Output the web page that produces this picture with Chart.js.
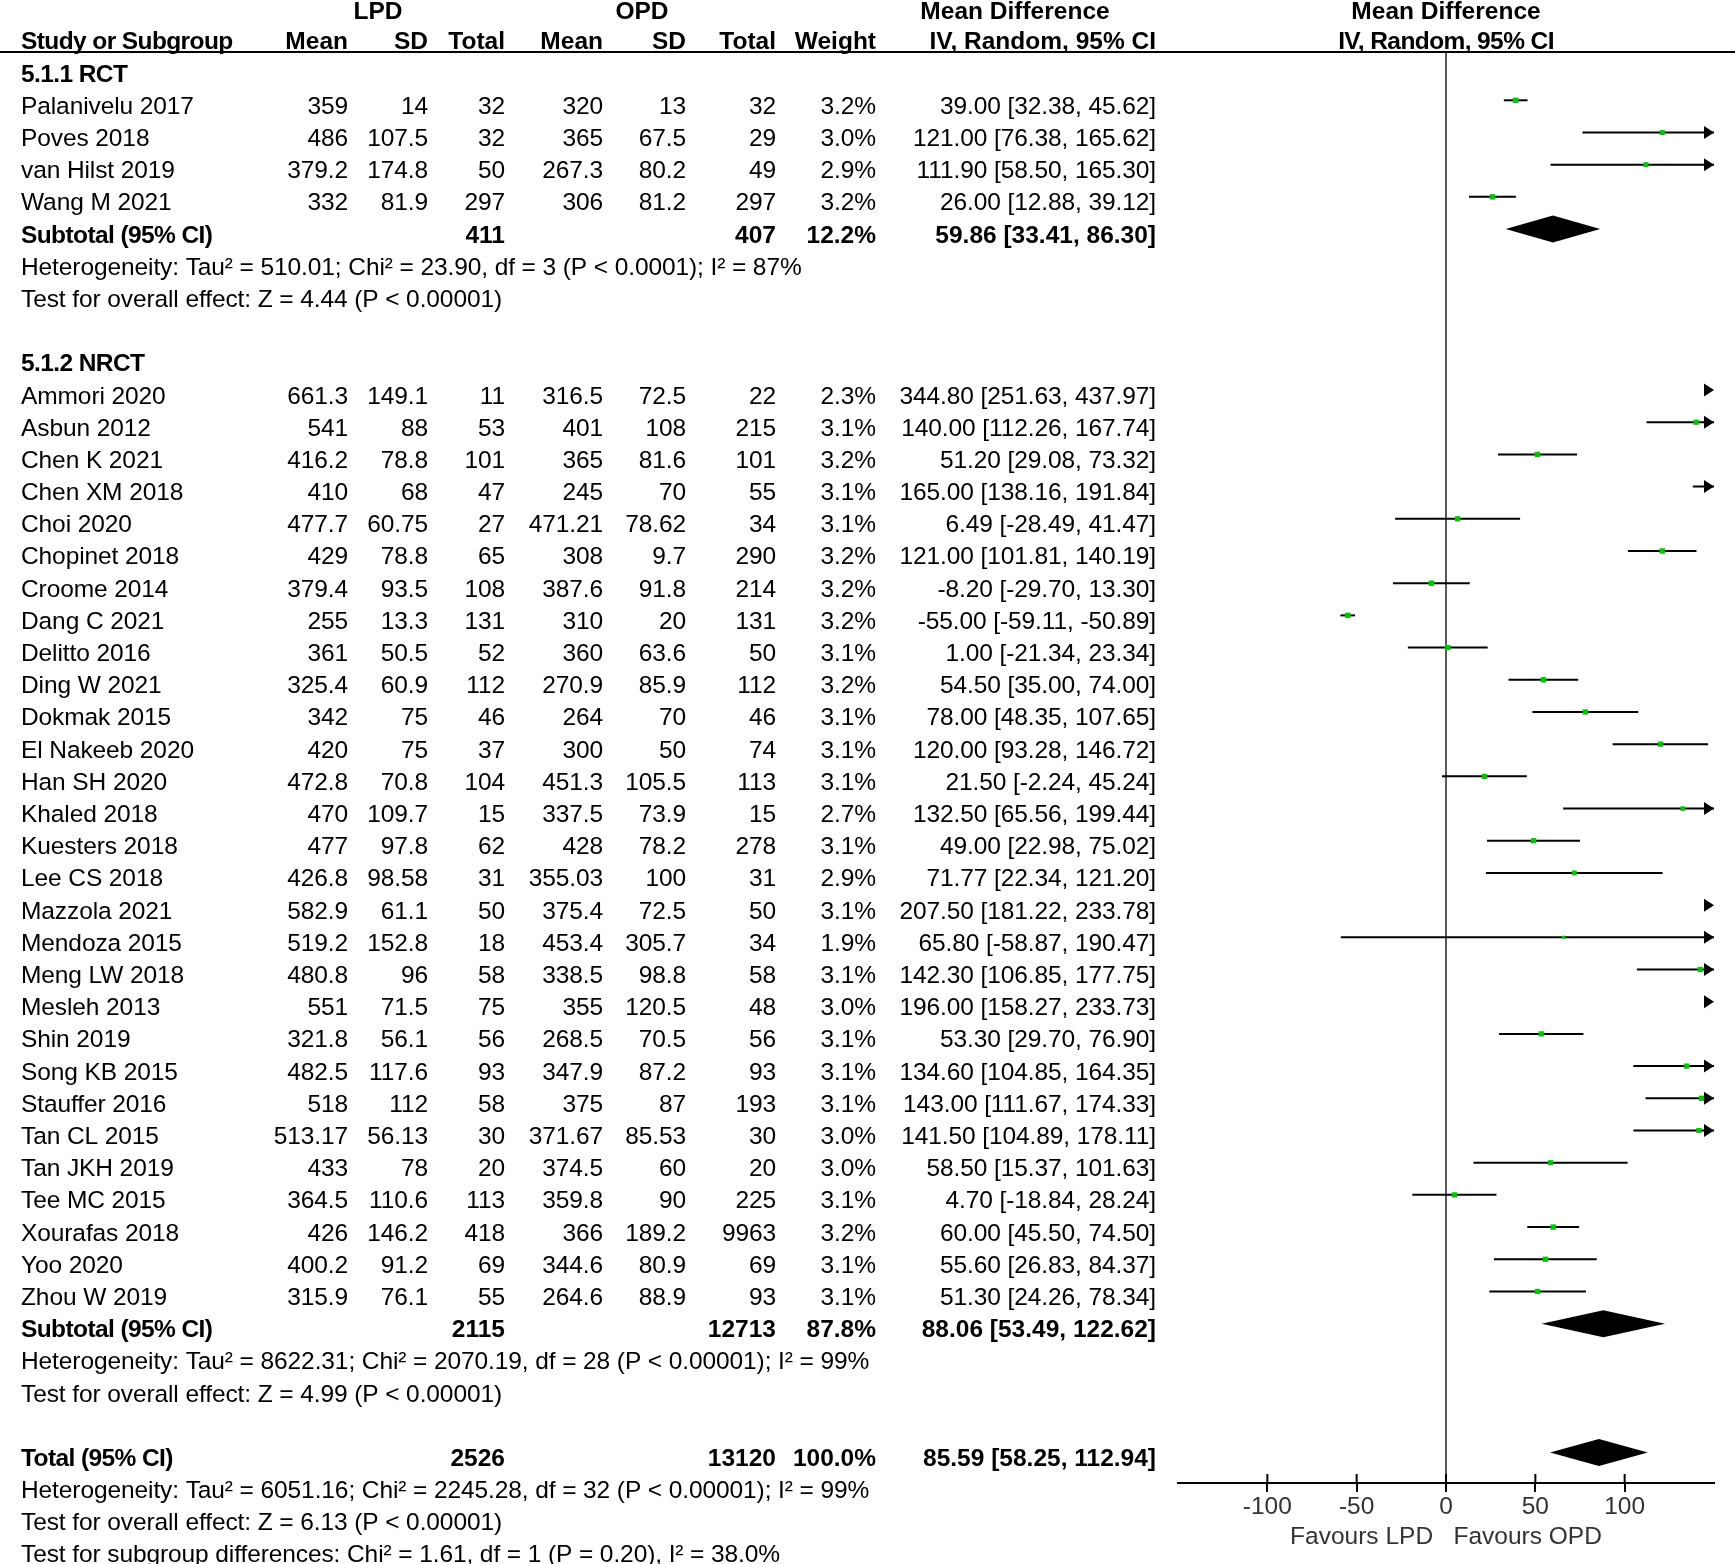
<!DOCTYPE html>
<html>
<head>
<meta charset="utf-8">
<title>Forest plot - LPD vs OPD</title>
<script src="https://cdn.jsdelivr.net/npm/chart.js@4.4.1/dist/chart.umd.min.js"></script>
<style>
    html, body { margin: 0; padding: 0; background: #fff; }
    canvas { display: block; }
</style>
</head>
<body>
<canvas id="forestChart" width="1735" height="1564"></canvas>
<script>
/* ============================================
   DATA
   ============================================ */

const groupNames = ['5.1.1 RCT', '5.1.2 NRCT'];

const studies = [
    'Palanivelu 2017', 'Poves 2018', 'van Hilst 2019', 'Wang M 2021',
    'Ammori 2020', 'Asbun 2012', 'Chen K 2021', 'Chen XM 2018', 'Choi 2020',
    'Chopinet 2018', 'Croome 2014', 'Dang C 2021', 'Delitto 2016', 'Ding W 2021',
    'Dokmak 2015', 'El Nakeeb 2020', 'Han SH 2020', 'Khaled 2018', 'Kuesters 2018',
    'Lee CS 2018', 'Mazzola 2021', 'Mendoza 2015', 'Meng LW 2018', 'Mesleh 2013',
    'Shin 2019', 'Song KB 2015', 'Stauffer 2016', 'Tan CL 2015', 'Tan JKH 2019',
    'Tee MC 2015', 'Xourafas 2018', 'Yoo 2020', 'Zhou W 2019'
];
const subgroup = [0, 0, 0, 0,
    1, 1, 1, 1, 1, 1, 1, 1, 1, 1, 1, 1, 1, 1, 1, 1, 1, 1, 1, 1, 1, 1, 1, 1, 1, 1, 1, 1, 1];

const lpdMean = ['359', '486', '379.2', '332',
    '661.3', '541', '416.2', '410', '477.7', '429', '379.4', '255', '361', '325.4',
    '342', '420', '472.8', '470', '477', '426.8', '582.9', '519.2', '480.8', '551',
    '321.8', '482.5', '518', '513.17', '433', '364.5', '426', '400.2', '315.9'];
const lpdSD = ['14', '107.5', '174.8', '81.9',
    '149.1', '88', '78.8', '68', '60.75', '78.8', '93.5', '13.3', '50.5', '60.9',
    '75', '75', '70.8', '109.7', '97.8', '98.58', '61.1', '152.8', '96', '71.5',
    '56.1', '117.6', '112', '56.13', '78', '110.6', '146.2', '91.2', '76.1'];
const lpdN = [32, 32, 50, 297,
    11, 53, 101, 47, 27, 65, 108, 131, 52, 112, 46, 37, 104, 15, 62, 31, 50, 18, 58, 75,
    56, 93, 58, 30, 20, 113, 418, 69, 55];
const opdMean = ['320', '365', '267.3', '306',
    '316.5', '401', '365', '245', '471.21', '308', '387.6', '310', '360', '270.9',
    '264', '300', '451.3', '337.5', '428', '355.03', '375.4', '453.4', '338.5', '355',
    '268.5', '347.9', '375', '371.67', '374.5', '359.8', '366', '344.6', '264.6'];
const opdSD = ['13', '67.5', '80.2', '81.2',
    '72.5', '108', '81.6', '70', '78.62', '9.7', '91.8', '20', '63.6', '85.9',
    '70', '50', '105.5', '73.9', '78.2', '100', '72.5', '305.7', '98.8', '120.5',
    '70.5', '87.2', '87', '85.53', '60', '90', '189.2', '80.9', '88.9'];
const opdN = [32, 29, 49, 297,
    22, 215, 101, 55, 34, 290, 214, 131, 50, 112, 46, 74, 113, 15, 278, 31, 50, 34, 58, 48,
    56, 93, 193, 30, 20, 225, 9963, 69, 93];
const weights = [3.2, 3.0, 2.9, 3.2,
    2.3, 3.1, 3.2, 3.1, 3.1, 3.2, 3.2, 3.2, 3.1, 3.2, 3.1, 3.1, 3.1, 2.7, 3.1, 2.9, 3.1,
    1.9, 3.1, 3.0, 3.1, 3.1, 3.1, 3.0, 3.0, 3.1, 3.2, 3.1, 3.1];
const meanDiff = [39.00, 121.00, 111.90, 26.00,
    344.80, 140.00, 51.20, 165.00, 6.49, 121.00, -8.20, -55.00, 1.00, 54.50, 78.00,
    120.00, 21.50, 132.50, 49.00, 71.77, 207.50, 65.80, 142.30, 196.00, 53.30, 134.60,
    143.00, 141.50, 58.50, 4.70, 60.00, 55.60, 51.30];
const ciLow = [32.38, 76.38, 58.50, 12.88,
    251.63, 112.26, 29.08, 138.16, -28.49, 101.81, -29.70, -59.11, -21.34, 35.00, 48.35,
    93.28, -2.24, 65.56, 22.98, 22.34, 181.22, -58.87, 106.85, 158.27, 29.70, 104.85,
    111.67, 104.89, 15.37, -18.84, 45.50, 26.83, 24.26];
const ciHigh = [45.62, 165.62, 165.30, 39.12,
    437.97, 167.74, 73.32, 191.84, 41.47, 140.19, 13.30, -50.89, 23.34, 74.00, 107.65,
    146.72, 45.24, 199.44, 75.02, 121.20, 233.78, 190.47, 177.75, 233.73, 76.90, 164.35,
    174.33, 178.11, 101.63, 28.24, 74.50, 84.37, 78.34];

// subgroup summaries
const subLpdN = [411, 2115];
const subOpdN = [407, 12713];
const subWeight = [12.2, 87.8];
const subMD = [59.86, 88.06];
const subLow = [33.41, 53.49];
const subHigh = [86.30, 122.62];
const subHeterogeneity = [
    'Heterogeneity: Tau² = 510.01; Chi² = 23.90, df = 3 (P < 0.0001); I² = 87%',
    'Heterogeneity: Tau² = 8622.31; Chi² = 2070.19, df = 28 (P < 0.00001); I² = 99%'
];
const subEffect = [
    'Test for overall effect: Z = 4.44 (P < 0.00001)',
    'Test for overall effect: Z = 4.99 (P < 0.00001)'
];

// overall summary
const totalLpdN = 2526;
const totalOpdN = 13120;
const totalWeight = 100.0;
const totalMD = 85.59;
const totalLow = 58.25;
const totalHigh = 112.94;
const totalNotes = [
    'Heterogeneity: Tau² = 6051.16; Chi² = 2245.28, df = 32 (P < 0.00001); I² = 99%',
    'Test for overall effect: Z = 6.13 (P < 0.00001)',
    'Test for subgroup differences: Chi² = 1.61, df = 1 (P = 0.20), I² = 38.0%'
];

// axis
const xTicks = [-100, -50, 0, 50, 100];
const xMin = -150;
const xMax = 150;

/* ============================================
   LAYOUT / STYLE
   ============================================ */

const FONT_FAMILY = '"Liberation Sans", Arial, sans-serif';
const FONT_SIZE = 24.5;
const TEXT_DROP = 13.5;        // text baseline below the plotted row centre
const DIAMOND_HALF = 13.5;
const MARKER_GREEN = '#00c800';

// right edges of the table columns
const COL = {
    name: 21,
    lpdMean: 348, lpdSD: 428, lpdN: 505,
    opdMean: 603, opdSD: 686, opdN: 776,
    weight: 876, md: 1156
};

/**
 * Build the row list (row index = y value on the chart)
 */
function buildRows() {
    const rows = [];
    let r = 0;
    groupNames.forEach(function(name, g) {
        rows.push({ kind: 'group', row: r++, text: name });
        studies.forEach(function(s, i) {
            if (subgroup[i] === g) rows.push({ kind: 'study', row: r++, i: i });
        });
        rows.push({ kind: 'subtotal', row: r++, g: g });
        rows.push({ kind: 'note', row: r++, text: subHeterogeneity[g] });
        rows.push({ kind: 'note', row: r++, text: subEffect[g] });
        r++; // blank line
    });
    rows.push({ kind: 'total', row: r++ });
    totalNotes.forEach(function(t) {
        rows.push({ kind: 'note', row: r++, text: t });
    });
    return rows;
}

const rows = buildRows();
const studyRows = rows.filter(r => r.kind === 'study');

function fmtCI(md, lo, hi) {
    return md.toFixed(2) + ' [' + lo.toFixed(2) + ', ' + hi.toFixed(2) + ']';
}

/**
 * Draw text helper (tight = slightly condensed bold, as in the original)
 */
function drawText(ctx, s, x, y, align, bold, tight) {
    ctx.font = (bold ? 'bold ' : '') + FONT_SIZE + 'px ' + FONT_FAMILY;
    ctx.letterSpacing = tight ? '-0.6px' : (bold ? '0px' : '-0.1px');
    ctx.textAlign = align;
    ctx.fillText(s, x, y);
}

function drawDiamond(ctx, xs, yPix, md, lo, hi) {
    ctx.beginPath();
    ctx.moveTo(xs.getPixelForValue(lo), yPix);
    ctx.lineTo(xs.getPixelForValue(md), yPix - DIAMOND_HALF);
    ctx.lineTo(xs.getPixelForValue(hi), yPix);
    ctx.lineTo(xs.getPixelForValue(md), yPix + DIAMOND_HALF);
    ctx.closePath();
    ctx.fill();
}

const forestDecor = {
    id: 'forestDecor',
    beforeDatasetsDraw(chart) {
        const { ctx, chartArea, scales: { x } } = chart;
        ctx.save();
        // line of no effect
        ctx.strokeStyle = '#222';
        ctx.lineWidth = 1.5;
        const x0 = x.getPixelForValue(0);
        ctx.beginPath();
        ctx.moveTo(x0, chartArea.top);
        ctx.lineTo(x0, chartArea.bottom);
        ctx.stroke();
        ctx.restore();
    },
    afterDatasetsDraw(chart) {
        const { ctx, scales: { x, y } } = chart;
        ctx.save();
        ctx.fillStyle = '#000';

        // arrows for intervals running off the scale
        studyRows.forEach(function(r) {
            const yp = y.getPixelForValue(r.row);
            if (ciHigh[r.i] > xMax) {
                const tip = x.getPixelForValue(xMax);
                ctx.beginPath();
                ctx.moveTo(tip, yp);
                ctx.lineTo(tip - 10, yp - 6.5);
                ctx.lineTo(tip - 10, yp + 6.5);
                ctx.closePath();
                ctx.fill();
            }
            if (ciLow[r.i] < xMin) {
                const tip = x.getPixelForValue(xMin);
                ctx.beginPath();
                ctx.moveTo(tip, yp);
                ctx.lineTo(tip + 10, yp - 6.5);
                ctx.lineTo(tip + 10, yp + 6.5);
                ctx.closePath();
                ctx.fill();
            }
        });

        // pooled diamonds
        rows.forEach(function(r) {
            const yp = y.getPixelForValue(r.row);
            if (r.kind === 'subtotal') {
                drawDiamond(ctx, x, yp, subMD[r.g], subLow[r.g], subHigh[r.g]);
            } else if (r.kind === 'total') {
                drawDiamond(ctx, x, yp, totalMD, totalLow, totalHigh);
            }
        });
        ctx.restore();
    },
    afterDraw(chart) {
        const { ctx, chartArea, width, scales: { x, y } } = chart;
        ctx.save();

        // header rule
        ctx.strokeStyle = '#000';
        ctx.lineWidth = 2;
        ctx.beginPath();
        ctx.moveTo(0, chartArea.top);
        ctx.lineTo(width, chartArea.top);
        ctx.stroke();

        // upper half of the axis ticks
        x.ticks.forEach(function(t) {
            const xp = x.getPixelForValue(t.value);
            ctx.beginPath();
            ctx.moveTo(xp, chartArea.bottom - 9);
            ctx.lineTo(xp, chartArea.bottom);
            ctx.stroke();
        });

        // column headers
        ctx.fillStyle = '#000';
        ctx.textBaseline = 'alphabetic';
        const h1 = chartArea.top - 33;
        const h2 = chartArea.top - 3;
        drawText(ctx, 'LPD', 378, h1, 'center', true);
        drawText(ctx, 'OPD', 642, h1, 'center', true);
        drawText(ctx, 'Mean Difference', 1015, h1, 'center', true);
        drawText(ctx, 'Mean Difference', x.getPixelForValue(0), h1, 'center', true);
        drawText(ctx, 'Study or Subgroup', COL.name, h2, 'left', true, true);
        drawText(ctx, 'Mean', COL.lpdMean, h2, 'right', true);
        drawText(ctx, 'SD', COL.lpdSD, h2, 'right', true);
        drawText(ctx, 'Total', COL.lpdN, h2, 'right', true);
        drawText(ctx, 'Mean', COL.opdMean, h2, 'right', true);
        drawText(ctx, 'SD', COL.opdSD, h2, 'right', true);
        drawText(ctx, 'Total', COL.opdN, h2, 'right', true);
        drawText(ctx, 'Weight', COL.weight, h2, 'right', true);
        drawText(ctx, 'IV, Random, 95% CI', COL.md, h2, 'right', true);
        drawText(ctx, 'IV, Random, 95% CI', x.getPixelForValue(0), h2, 'center', true, true);

        // table body
        rows.forEach(function(r) {
            const yb = y.getPixelForValue(r.row) + TEXT_DROP;
            if (r.kind === 'group') {
                drawText(ctx, r.text, COL.name, yb, 'left', true, true);
            } else if (r.kind === 'note') {
                drawText(ctx, r.text, COL.name, yb, 'left', false);
            } else if (r.kind === 'study') {
                const i = r.i;
                drawText(ctx, studies[i], COL.name, yb, 'left', false);
                drawText(ctx, lpdMean[i], COL.lpdMean, yb, 'right', false);
                drawText(ctx, lpdSD[i], COL.lpdSD, yb, 'right', false);
                drawText(ctx, String(lpdN[i]), COL.lpdN, yb, 'right', false);
                drawText(ctx, opdMean[i], COL.opdMean, yb, 'right', false);
                drawText(ctx, opdSD[i], COL.opdSD, yb, 'right', false);
                drawText(ctx, String(opdN[i]), COL.opdN, yb, 'right', false);
                drawText(ctx, weights[i].toFixed(1) + '%', COL.weight, yb, 'right', false);
                drawText(ctx, fmtCI(meanDiff[i], ciLow[i], ciHigh[i]), COL.md, yb, 'right', false);
            } else if (r.kind === 'subtotal') {
                const g = r.g;
                drawText(ctx, 'Subtotal (95% CI)', COL.name, yb, 'left', true, true);
                drawText(ctx, String(subLpdN[g]), COL.lpdN, yb, 'right', true);
                drawText(ctx, String(subOpdN[g]), COL.opdN, yb, 'right', true);
                drawText(ctx, subWeight[g].toFixed(1) + '%', COL.weight, yb, 'right', true);
                drawText(ctx, fmtCI(subMD[g], subLow[g], subHigh[g]), COL.md, yb, 'right', true);
            } else if (r.kind === 'total') {
                drawText(ctx, 'Total (95% CI)', COL.name, yb, 'left', true, true);
                drawText(ctx, String(totalLpdN), COL.lpdN, yb, 'right', true);
                drawText(ctx, String(totalOpdN), COL.opdN, yb, 'right', true);
                drawText(ctx, totalWeight.toFixed(1) + '%', COL.weight, yb, 'right', true);
                drawText(ctx, fmtCI(totalMD, totalLow, totalHigh), COL.md, yb, 'right', true);
            }
        });
        ctx.restore();
    }
};

/* ============================================
   CHART
   ============================================ */

document.addEventListener('DOMContentLoaded', function() {
    initializeForestChart();
});

function initializeForestChart() {
    const ctx = document.getElementById('forestChart');

    // one short line per study for its confidence interval
    const ciDatasets = studyRows.map(function(r) {
        return {
            label: studies[r.i] + ' CI',
            data: [{ x: ciLow[r.i], y: r.row }, { x: ciHigh[r.i], y: r.row }],
            showLine: true,
            borderColor: '#000',
            borderWidth: 2,
            pointRadius: 0,
            clip: 0,
            order: 1
        };
    });

    const pointDataset = {
        label: 'Mean difference',
        data: studyRows.map(r => ({ x: meanDiff[r.i], y: r.row })),
        pointStyle: 'rect',
        pointRadius: studyRows.map(r => weights[r.i] * 1.2),
        backgroundColor: MARKER_GREEN,
        borderWidth: 0,
        clip: 0,
        order: 0
    };

    new Chart(ctx, {
        type: 'scatter',
        data: {
            datasets: [pointDataset].concat(ciDatasets)
        },
        options: {
            responsive: false,
            animation: false,
            devicePixelRatio: 1,
            layout: {
                padding: { left: 1178, right: 21, top: 52, bottom: 0 }
            },
            plugins: {
                legend: { display: false },
                tooltip: { enabled: false }
            },
            scales: {
                x: {
                    type: 'linear',
                    min: xMin,
                    max: xMax,
                    afterBuildTicks: function(scale) {
                        scale.ticks = xTicks.map(v => ({ value: v }));
                    },
                    afterFit: function(scale) {
                        scale.height = 81;
                    },
                    border: { display: true, color: '#000', width: 2 },
                    grid: {
                        drawOnChartArea: false,
                        drawTicks: true,
                        tickLength: 9,
                        color: '#000',
                        lineWidth: 2
                    },
                    ticks: {
                        color: '#333',
                        padding: 1,
                        maxRotation: 0,
                        autoSkip: false,
                        font: { family: FONT_FAMILY, size: FONT_SIZE }
                    },
                    title: {
                        display: true,
                        text: 'Favours LPD   Favours OPD',
                        color: '#333',
                        font: { family: FONT_FAMILY, size: FONT_SIZE },
                        padding: { top: 0, bottom: 12 }
                    }
                },
                y: {
                    type: 'linear',
                    display: false,
                    reverse: true,
                    min: -0.5,
                    max: 43.95
                }
            }
        },
        plugins: [forestDecor]
    });
}
</script>
</body>
</html>
